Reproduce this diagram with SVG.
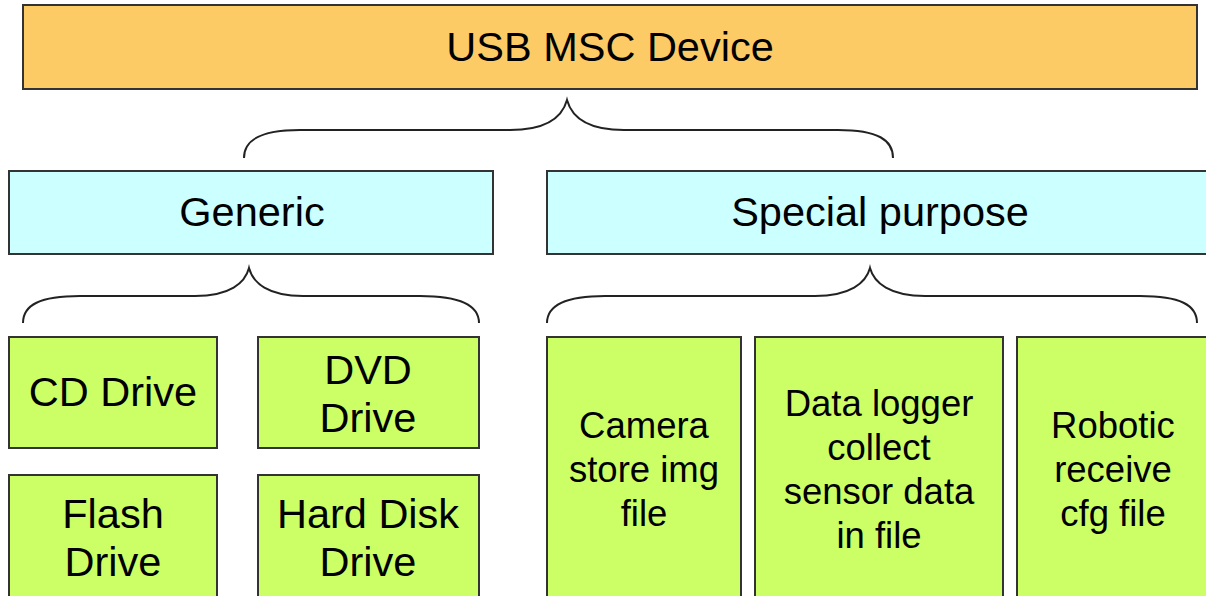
<svg xmlns="http://www.w3.org/2000/svg" width="1206" height="596" viewBox="0 0 1206 596">
<style>
.box{stroke:#333;stroke-width:2}
.top{fill:#FDCB66}
.cat{fill:#CCFFFF}
.leaf{fill:#CCFF66}
.t{font-family:"Liberation Sans",Arial,sans-serif;font-size:41.5px;fill:#000;text-anchor:middle}
.n{font-family:"Liberation Sans",Arial,sans-serif;font-size:36.5px;fill:#000;text-anchor:middle}
.brace{fill:none;stroke:#222;stroke-width:2}
</style>
<rect width="1206" height="596" fill="#fff"/>
<g id="connectors">
<path class="brace" d="M244,158 C244,140 260,130 300,130 L510,130 C545,130 562,118 567,100 C572,118 589,130 624,130 L838,130 C878,130 893,140 893,158"/>
<path class="brace" d="M23,323 C23,305 40,296 80,296 L195,296 C230,296 245,283 249,268 C253,283 268,296 303,296 L420,296 C460,296 479,305 479,323"/>
<path class="brace" d="M547,323 C547,305 565,296 605,296 L815,296 C850,296 866,283 870,268 C874,283 890,296 925,296 L1140,296 C1180,296 1197,305 1197,323"/>
</g>
<g id="usb">
<rect class="box top" x="23" y="5" width="1174" height="84"/>
<text class="t" x="610" y="61">USB MSC Device</text>
</g>
<g id="generic">
<rect class="box cat" x="9" y="171" width="484" height="83"/>
<text class="t" x="252" y="226">Generic</text>
</g>
<g id="special">
<rect class="box cat" x="547" y="171" width="670" height="83"/>
<text class="t" x="880" y="226">Special purpose</text>
</g>
<g id="cd">
<rect class="box leaf" x="9" y="337" width="208" height="111"/>
<text class="t" x="113" y="406">CD Drive</text>
</g>
<g id="dvd">
<rect class="box leaf" x="258" y="337" width="221" height="111"/>
<text class="t" x="368" y="384">DVD</text>
<text class="t" x="368" y="432">Drive</text>
</g>
<g id="flash">
<rect class="box leaf" x="9" y="475" width="208" height="140"/>
<text class="t" x="113" y="528">Flash</text>
<text class="t" x="113" y="576">Drive</text>
</g>
<g id="hdd">
<rect class="box leaf" x="258" y="475" width="221" height="140"/>
<text class="t" x="368" y="528">Hard Disk</text>
<text class="t" x="368" y="576">Drive</text>
</g>
<g id="camera">
<rect class="box leaf" x="547" y="337" width="194" height="280"/>
<text class="n" x="644" y="438">Camera</text>
<text class="n" x="644" y="482">store img</text>
<text class="n" x="644" y="526">file</text>
</g>
<g id="logger">
<rect class="box leaf" x="755" y="337" width="248" height="280"/>
<text class="n" x="879" y="416">Data logger</text>
<text class="n" x="879" y="460">collect</text>
<text class="n" x="879" y="504">sensor data</text>
<text class="n" x="879" y="548">in file</text>
</g>
<g id="robotic">
<rect class="box leaf" x="1017" y="337" width="200" height="280"/>
<text class="n" x="1113" y="438">Robotic</text>
<text class="n" x="1113" y="482">receive</text>
<text class="n" x="1113" y="526">cfg file</text>
</g>
</svg>
